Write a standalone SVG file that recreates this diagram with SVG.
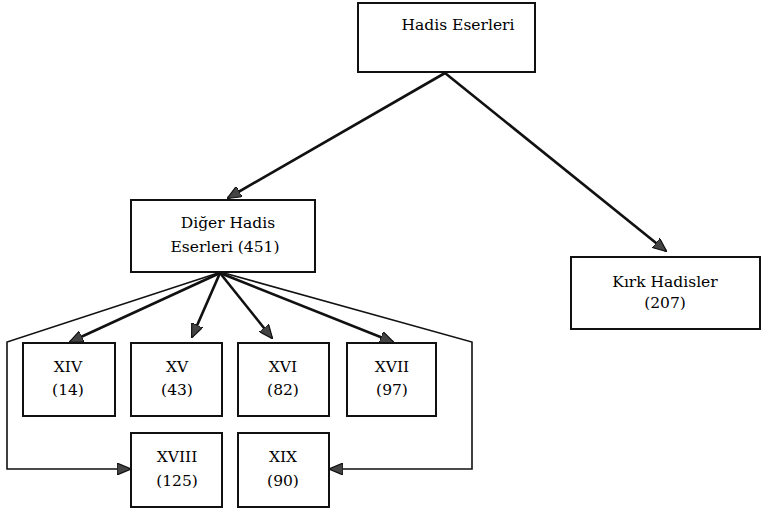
<svg xmlns="http://www.w3.org/2000/svg" width="766" height="511" viewBox="0 0 766 511">
<defs>
<style>
.box{fill:#fff;stroke:#111;stroke-width:2}
.t{font-family:"DejaVu Serif","Liberation Serif",serif;font-size:15.5px;fill:#000;text-anchor:middle}
.thick{fill:none;stroke:#111;stroke-width:2.6}
.thin{fill:none;stroke:#111;stroke-width:1.6}
</style>
<marker id="ah" viewBox="0 0 14 12" refX="13" refY="6" markerWidth="14" markerHeight="12" markerUnits="userSpaceOnUse" orient="auto">
<path d="M0,0 L14,6 L0,12 Z" fill="#444" stroke="#111" stroke-width="1.2"/>
</marker>
</defs>
<g id="connectors">
<line class="thick" x1="445" y1="73" x2="228" y2="198" marker-end="url(#ah)"/>
<line class="thick" x1="445" y1="73" x2="666" y2="251" marker-end="url(#ah)"/>
<line class="thick" x1="220" y1="273" x2="70" y2="342" marker-end="url(#ah)"/>
<line class="thick" x1="220" y1="273" x2="192" y2="337" marker-end="url(#ah)"/>
<line class="thick" x1="220" y1="273" x2="272" y2="338" marker-end="url(#ah)"/>
<line class="thick" x1="220" y1="273" x2="393" y2="342" marker-end="url(#ah)"/>
<polyline class="thin" points="218,273 7,342 7,469 130,469" marker-end="url(#ah)"/>
<polyline class="thin" points="224,273 472,342 472,469 330,469" marker-end="url(#ah)"/>
</g>
<g id="hadis-eserleri"><rect class="box" x="358" y="3" width="177" height="69"/><text class="t" x="458" y="30">Hadis Eserleri</text></g>
<g id="diger"><rect class="box" x="131" y="200" width="184" height="72"/><text class="t" x="228" y="228">Diğer Hadis</text><text class="t" x="225" y="252">Eserleri (451)</text></g>
<g id="kirk"><rect class="box" x="571" y="257" width="189" height="72"/><text class="t" x="665" y="287">Kırk Hadisler</text><text class="t" x="665" y="308">(207)</text></g>
<g id="xiv"><rect class="box" x="23" y="343" width="92" height="73"/><text class="t" x="68" y="372">XIV</text><text class="t" x="68" y="395">(14)</text></g>
<g id="xv"><rect class="box" x="131" y="343" width="91" height="73"/><text class="t" x="177" y="372">XV</text><text class="t" x="177" y="395">(43)</text></g>
<g id="xvi"><rect class="box" x="238" y="343" width="91" height="73"/><text class="t" x="283" y="372">XVI</text><text class="t" x="283" y="395">(82)</text></g>
<g id="xvii"><rect class="box" x="347" y="343" width="89" height="73"/><text class="t" x="392" y="372">XVII</text><text class="t" x="392" y="395">(97)</text></g>
<g id="xviii"><rect class="box" x="131" y="433" width="91" height="74"/><text class="t" x="177" y="462">XVIII</text><text class="t" x="177" y="486">(125)</text></g>
<g id="xix"><rect class="box" x="238" y="433" width="91" height="74"/><text class="t" x="283" y="462">XIX</text><text class="t" x="283" y="486">(90)</text></g>
</svg>
